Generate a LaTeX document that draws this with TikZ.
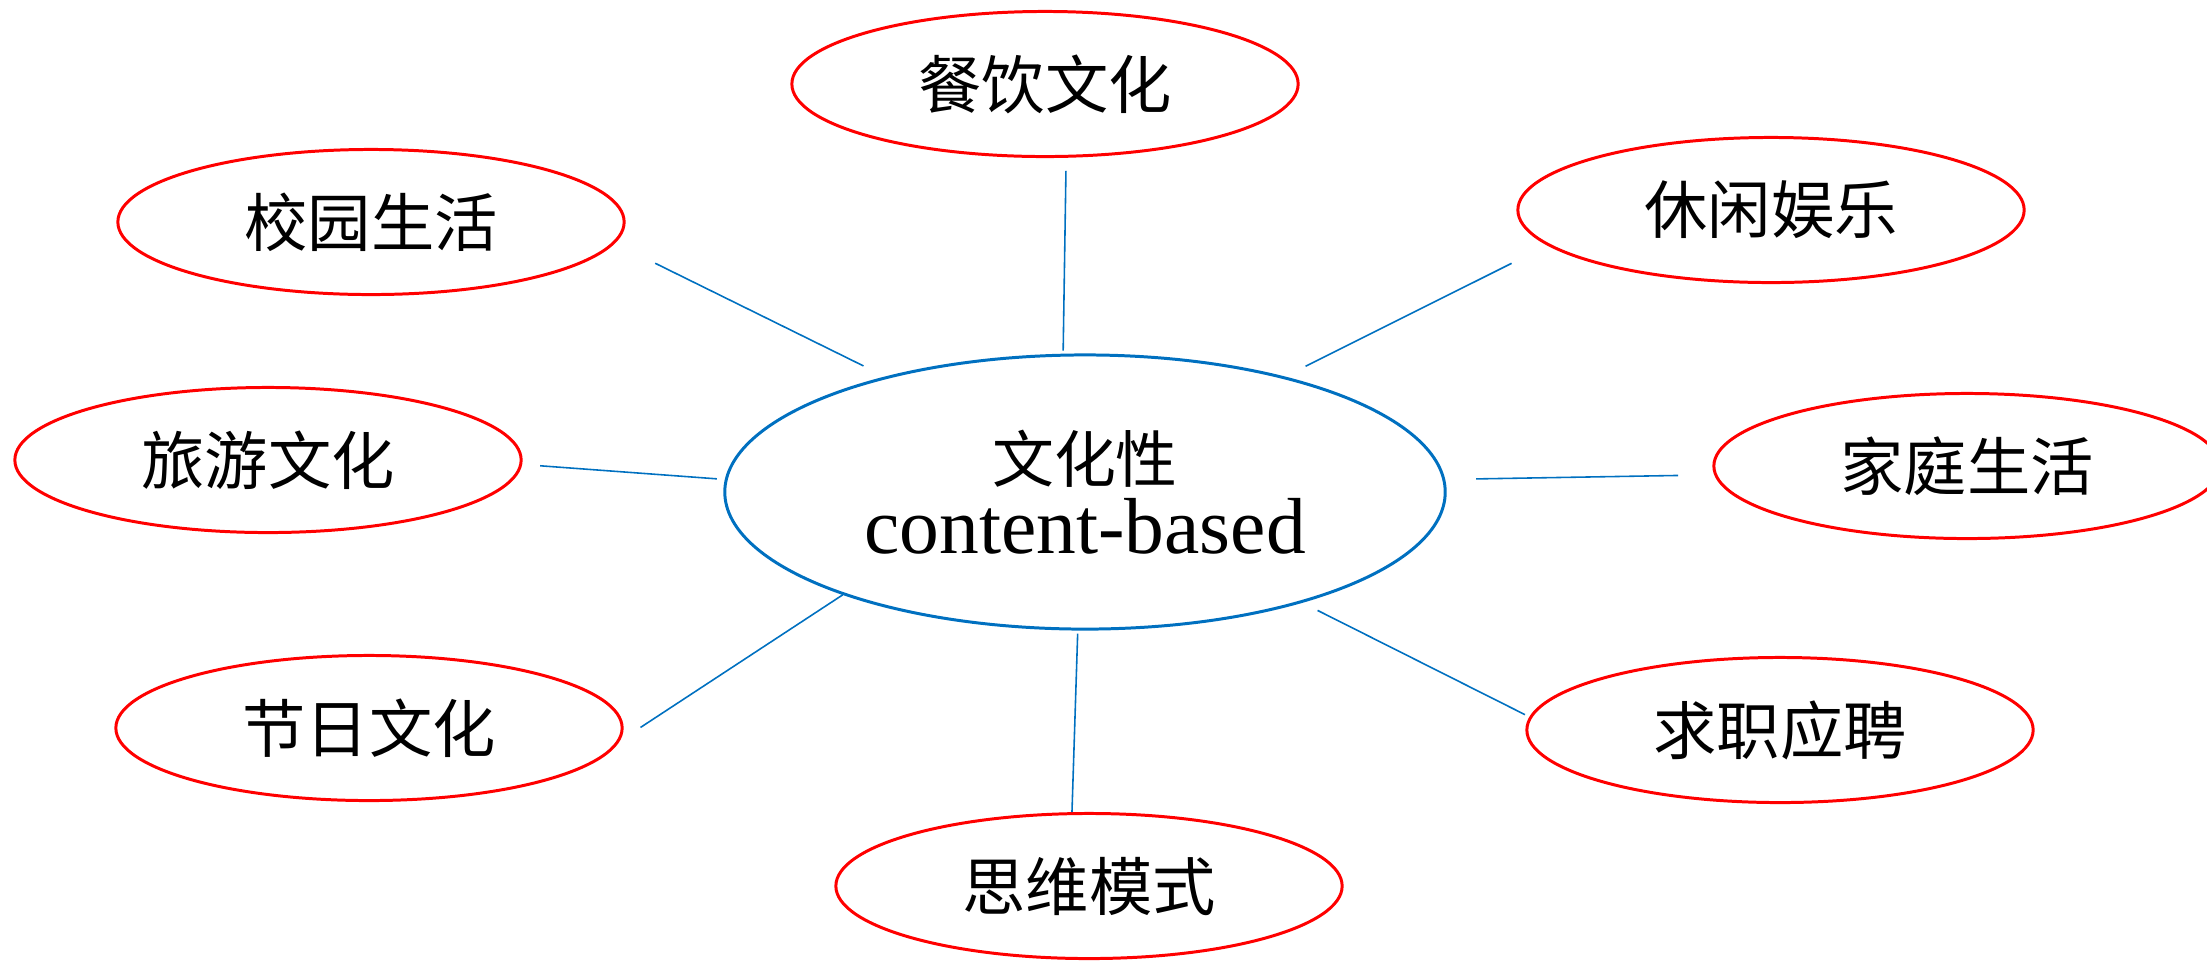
\documentclass[tikz,border=0pt]{standalone}
\usepackage{fontspec}
\setmainfont{Liberation Serif}
\newfontfamily\cjk{Noto Sans CJK SC}
\usepackage{xcolor}
\usepackage{tikz}
\usetikzlibrary{shapes.geometric}

\definecolor{hubblue}{RGB}{0,112,192}
\definecolor{topicred}{RGB}{255,0,0}

\begin{document}
\begin{tikzpicture}[
    x=0.01cm, y=-0.01cm,
    topic/.style={ellipse, draw=topicred, line width=0.85pt, minimum width=5.06cm, minimum height=1.45cm, inner sep=0pt, font=\cjk\fontsize{18}{20}\selectfont},
    hub/.style={ellipse, draw=hubblue, line width=0.85pt, minimum width=7.2cm, minimum height=2.74cm, inner sep=0pt, align=center, font=\fontsize{22.6}{20.2}\selectfont},
    link/.style={draw=hubblue, line width=0.45pt}
]
    \useasboundingbox (0,0) rectangle (2207,960);

    % Central node
    \node[hub] (hub) at (1085,492) {{\cjk\fontsize{17.6}{20}\selectfont 文化性}\\content-based};

    % Topics
    \node[topic] (canyin) at (1045,84) {餐饮文化};
    \node[topic] (xiaoyuan) at (371,222) {校园生活};
    \node[topic] (xiuxian) at (1771,210) {休闲娱乐};
    \node[topic] (lvyou) at (268,460) {旅游文化};
    \node[topic] (jiating) at (1967,466) {家庭生活};
    \node[topic] (jieri) at (369,728) {节日文化};
    \node[topic] (qiuzhi) at (1780,730) {求职应聘};
    \node[topic] (siwei) at (1089,886) {思维模式};

    % Links
    \draw[link, shorten <=0.24cm, shorten >=0.45cm] (hub.150) -- (xiaoyuan.-5);
    \draw[link, shorten <=0.03cm, shorten >=0.13cm] (hub.99) -- (canyin.-74);
    \draw[link, shorten <=0.23cm, shorten >=0.40cm] (hub.30) -- (xiuxian.-171);
    \draw[link, shorten <=0.08cm, shorten >=0.18cm] (hub.178) -- (lvyou.-1);
    \draw[link, shorten <=0.31cm, shorten >=0.36cm] (hub.2) -- (jiating.182);
    \draw[link, shorten >=0.25cm] (hub.203) -- (jieri.-3);
    \draw[link, shorten <=0.17cm, shorten >=0.05cm] (hub.-27) -- (qiuzhi.177);
    \draw[link, shorten <=0.03cm] (hub.-93) -- (siwei.103);
\end{tikzpicture}
\end{document}
